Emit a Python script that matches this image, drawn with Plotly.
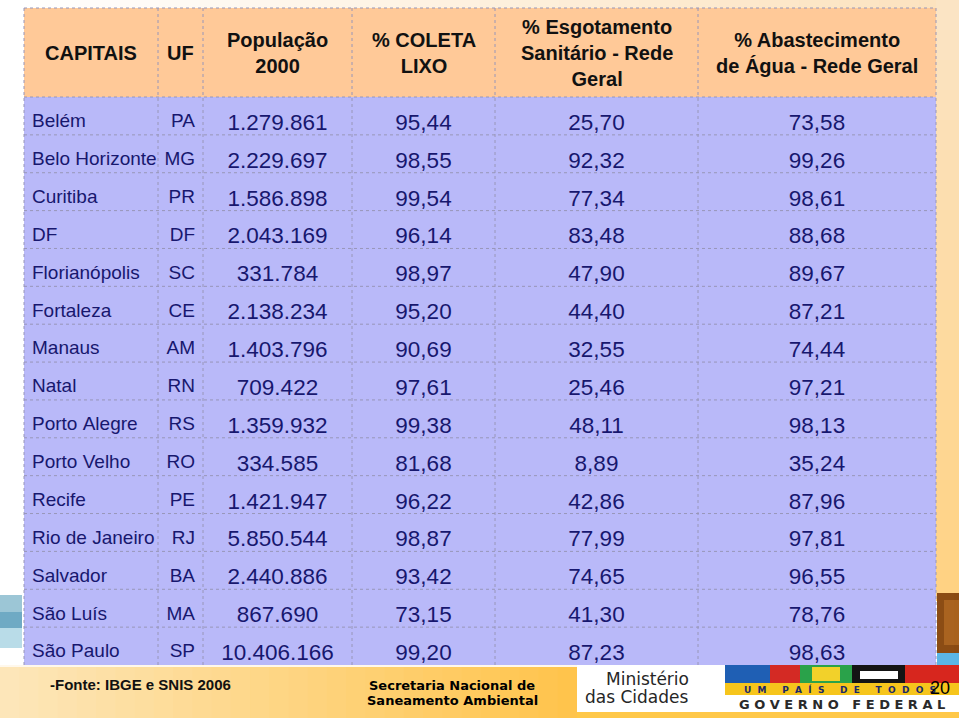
import plotly.graph_objects as go

# ---------------- data ----------------
headers = ["CAPITAIS", "UF", "População<br>2000", "% COLETA<br>LIXO",
           "% Esgotamento<br>Sanitário - Rede<br>Geral",
           "% Abastecimento<br>de Água - Rede Geral"]
capitais = ["Belém", "Belo Horizonte", "Curitiba", "DF", "Florianópolis", "Fortaleza",
            "Manaus", "Natal", "Porto Alegre", "Porto Velho", "Recife", "Rio de Janeiro",
            "Salvador", "São Luís", "São Paulo"]
uf = ["PA", "MG", "PR", "DF", "SC", "CE", "AM", "RN", "RS", "RO", "PE", "RJ", "BA", "MA", "SP"]
populacao = ["1.279.861", "2.229.697", "1.586.898", "2.043.169", "331.784", "2.138.234",
             "1.403.796", "709.422", "1.359.932", "334.585", "1.421.947", "5.850.544",
             "2.440.886", "867.690", "10.406.166"]
coleta_lixo = [95.44, 98.55, 99.54, 96.14, 98.97, 95.20, 90.69, 97.61, 99.38, 81.68,
               96.22, 98.87, 93.42, 73.15, 99.20]
esgotamento = [25.70, 92.32, 77.34, 83.48, 47.90, 44.40, 32.55, 25.46, 48.11, 8.89,
               42.86, 77.99, 74.65, 41.30, 87.23]
abastecimento = [73.58, 99.26, 98.61, 88.68, 89.67, 87.21, 74.44, 97.21, 98.13, 35.24,
                 87.96, 97.81, 96.55, 78.76, 98.63]
fonte = "-Fonte: IBGE e SNIS 2006"


def br(v):
    return f"{v:.2f}".replace(".", ",")


W, H = 959, 718
fig = go.Figure()

# ---------------- layout geometry ----------------
col_w = [134, 45, 149, 143, 203, 238]
X0, X1 = 24, 936          # table left / right (px)
TOP, HEAD_BOT, BOT = 8, 97, 665
ROW_H = (BOT - HEAD_BOT) / len(capitais)
TEXT_SHIFT = 8            # move cell text down so it sits like in the slide
LAV = "#b9b9f9"
PEACH = "#ffc998"
GRID = "#9896b8"

shapes = []


def rect(x0, y0, x1, y1, color, layer="below"):
    shapes.append(dict(type="rect", xref="paper", yref="paper",
                       x0=x0 / W, x1=x1 / W, y0=1 - y1 / H, y1=1 - y0 / H,
                       fillcolor=color, line=dict(width=0), layer=layer))


def hline(x0, x1, y):
    shapes.append(dict(type="line", xref="paper", yref="paper", x0=x0 / W, x1=x1 / W,
                       y0=1 - y / H, y1=1 - y / H, layer="above",
                       line=dict(color=GRID, width=1, dash="dot")))


def vline(x, y0, y1):
    shapes.append(dict(type="line", xref="paper", yref="paper", x0=x / W, x1=x / W,
                       y0=1 - y1 / H, y1=1 - y0 / H, layer="above",
                       line=dict(color=GRID, width=1, dash="dot")))


def lerp(c1, c2, t):
    return "#%02x%02x%02x" % tuple(int(round(a + (b - a) * t)) for a, b in zip(c1, c2))


# top band: white -> peach
n = 24
for i in range(n):
    t = i / (n - 1)
    rect(i * W / n, 0, (i + 1) * W / n + 1, 10, lerp((255, 255, 255), (252, 226, 190), t))
# right strip
for i in range(20):
    t = i / 19
    rect(936, i * 600 / 20, 959, (i + 1) * 600 / 20 + 1, lerp((251, 228, 196), (255, 210, 130), t))
rect(937, 593, 959, 653, "#8a4a12")
rect(944, 600, 959, 645, "#a8621e")
rect(937, 653, 959, 677, "#5ab6e6")
# left swoosh
rect(0, 595, 22, 612, "#9cc6d6")
rect(0, 612, 22, 628, "#6faac4")
rect(0, 628, 22, 648, "#b9dce8")

# patch between header and first row (table is drawn shifted down)
rect(X0, HEAD_BOT, X1, HEAD_BOT + TEXT_SHIFT, LAV, layer="above")

# footer gradient (drawn above the table's shifted bottom edge)
for i in range(30):
    t = i / 29
    rect(i * 577 / 30, BOT, (i + 1) * 577 / 30 + 1, 718,
         lerp((253, 230, 185), (255, 196, 76), t), layer="above")
rect(0, BOT, 577, BOT + 2, "#fff8ec", layer="above")
rect(577, 712, 959, 718, "#ffc848", layer="above")
rect(577, BOT, 936, 712, "#ffffff", layer="above")
# BRASIL logo blocks
rect(725, 665, 770, 683, "#1f5fb4", layer="above")
rect(770, 665, 800, 683, "#d42a24", layer="above")
rect(800, 665, 852, 683, "#2aa24a", layer="above")
rect(812, 667, 840, 681, "#f2d12a", layer="above")
rect(852, 665, 905, 683, "#141414", layer="above")
rect(860, 671, 898, 679, "#ffffff", layer="above")
rect(905, 665, 959, 683, "#d7261e", layer="above")
rect(725, 683, 959, 695, "#f6c51c", layer="above")
rect(725, 695, 959, 712, "#ffffff", layer="above")

# dotted grid of the table
scale = (X1 - X0) / sum(col_w)
edges = [X0]
for w in col_w:
    edges.append(edges[-1] + w * scale)
for x in edges:
    vline(x, TOP, BOT)
hline(X0, X1, TOP)
for k in range(len(capitais)):
    hline(X0, X1, HEAD_BOT + k * ROW_H)

# ---------------- table ----------------
fig.add_trace(go.Table(
    domain=dict(x=[X0 / W, X1 / W], y=[1 - (BOT + TEXT_SHIFT) / H, 1 - TOP / H]),
    columnwidth=col_w,
    header=dict(
        values=[""] * len(headers),
        fill_color=PEACH,
        line=dict(color=PEACH, width=0),
        height=HEAD_BOT - TOP + TEXT_SHIFT,
    ),
    cells=dict(
        values=[[c.replace(" ", "\u00a0") for c in capitais], uf, populacao,
                [br(v) for v in coleta_lixo],
                [br(v) for v in esgotamento],
                [br(v) for v in abastecimento]],
        fill_color=LAV,
        line=dict(color=LAV, width=0),
        align=["left", "right", "center", "center", "center", "center"],
        font=dict(family="Liberation Sans, Arial, sans-serif",
                  size=[19, 19, 22.5, 22.5, 22.5, 22.5], color="#17176e"),
        height=ROW_H,
    ),
))

# ---------------- header & footer texts ----------------
ann = []


def text(x, y, s, size, color="#000000", family="Liberation Sans, Arial, sans-serif",
         xanchor="center", bold=False):
    ann.append(dict(x=x / W, y=1 - y / H, xref="paper", yref="paper", showarrow=False,
                    text=f"<b>{s}</b>" if bold else s, xanchor=xanchor, yanchor="middle",
                    align="center" if xanchor == "center" else xanchor,
                    font=dict(size=size, color=color, family=family)))


for h, a, b in zip(headers, edges[:-1], edges[1:]):
    text((a + b) / 2, 53, h, 20, color="#111111", bold=True)

text(48, 684, fonte, 15, xanchor="left", bold=True, color="#111111")
text(452, 685, "Secretaria Nacional de", 13, family="DejaVu Sans, Verdana, sans-serif", bold=True)
text(452, 700, "Saneamento Ambiental", 13, family="DejaVu Sans, Verdana, sans-serif", bold=True)
text(691, 679, "Ministério", 17, color="#262626", family="DejaVu Sans, Verdana, sans-serif",
     xanchor="right")
text(691, 697, "das Cidades", 17, color="#262626", family="DejaVu Sans, Verdana, sans-serif",
     xanchor="right")
text(840, 689, "U  M     P  A  Í  S     D  E     T  O  D  O  S", 9, color="#1a2a6a",
     family="DejaVu Sans, Verdana, sans-serif", bold=True)
text(842, 704, "G O V E R N O   F E D E R A L", 13, color="#2a2a2a",
     family="DejaVu Sans, Verdana, sans-serif", bold=True)
text(940, 688, "20", 18, color="#000000")

fig.update_layout(
    shapes=shapes,
    annotations=ann,
    width=W, height=H,
    margin=dict(l=0, r=0, t=0, b=0),
    paper_bgcolor="#ffffff",
    plot_bgcolor="#ffffff",
    showlegend=False,
)
fig.write_html("out.html", config={"displayModeBar": False},
               post_script="document.body.style.margin='0';document.body.style.overflow='hidden';")
